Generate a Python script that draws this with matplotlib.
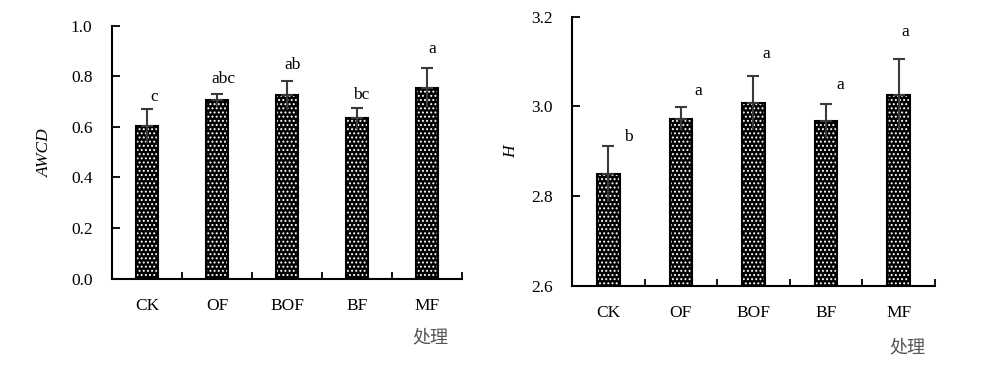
import numpy as np
import matplotlib.pyplot as plt

plt.rcParams['font.family'] = ['Liberation Serif', 'Noto Sans CJK SC']
plt.rcParams['hatch.linewidth'] = 0.9

treatments = ['CK', 'OF', 'BOF', 'BF', 'MF']

awcd_mean = [0.603, 0.705, 0.725, 0.634, 0.755]
awcd_err = [0.067, 0.026, 0.055, 0.042, 0.078]
awcd_letters = ['c', 'abc', 'ab', 'bc', 'a']

h_mean = [2.849, 2.973, 3.008, 2.968, 3.026]
h_err = [0.062, 0.026, 0.060, 0.038, 0.079]
h_letters = ['b', 'a', 'a', 'a', 'a']


def draw_panel(ax, mean, err, letters, ylim, yticks, ylabel, dx, dy):
    x = np.arange(len(treatments))
    mean = np.array(mean)
    err = np.array(err)
    base = ylim[0]
    # dotted fill: black bar with white hatch dots, then black outline
    ax.bar(x, mean - base, bottom=base, width=0.31, color='black',
           edgecolor='white', hatch='....', linewidth=0, zorder=2)
    ax.bar(x, mean - base, bottom=base, width=0.31, fill=False,
           edgecolor='black', linewidth=1.5, zorder=3)
    ax.errorbar(x, mean, yerr=[np.zeros_like(err), err], fmt='none',
                ecolor='#3a3a3a', elinewidth=1.5, capsize=4, capthick=1.5,
                zorder=4)
    ax.vlines(x, mean - err, mean, color='#3a3a3a', linewidth=1.5, zorder=4)
    for i, lab in enumerate(letters):
        ax.annotate(lab, (x[i] + dx[i], mean[i] + err[i]),
                    xytext=(0, dy[i]), textcoords='offset points',
                    ha='center', va='bottom', fontsize=12.5)

    ax.set_xlim(-0.5, len(treatments) - 0.5)
    ax.set_ylim(*ylim)
    ax.set_yticks(yticks)
    ax.set_yticklabels([f'{t:.1f}' for t in yticks])
    ax.set_xticks(x)
    ax.set_xticklabels(treatments)
    ax.set_xticks(np.arange(len(treatments) + 1) - 0.5, minor=True)
    ax.tick_params(axis='x', which='major', length=0, pad=14, labelsize=12.5)
    ax.tick_params(axis='x', which='minor', direction='in', length=5,
                   width=1.3)
    ax.tick_params(axis='y', direction='in', length=6, width=1.3, pad=14,
                   labelsize=12.5)
    for side in ['top', 'right']:
        ax.spines[side].set_visible(False)
    for side in ['left', 'bottom']:
        ax.spines[side].set_linewidth(1.5)
    ax.set_ylabel(ylabel, style='italic', fontsize=12.5)


fig = plt.figure(figsize=(10, 3.67), dpi=100)

ax1 = fig.add_axes([0.112, 0.2406, 0.35, 0.6894])
draw_panel(ax1, awcd_mean, awcd_err, awcd_letters, (0.0, 1.0),
           [0.0, 0.2, 0.4, 0.6, 0.8, 1.0], 'AWCD',
           [0.1, 0.09, 0.08, 0.06, 0.08], [3, 5, 6, 3, 8])
ax1.yaxis.set_label_coords(-0.168, 0.5)
fig.text(0.43, 0.08, '处理', ha='center', va='center', fontsize=13,
         color='#555555', family='Noto Sans CJK SC')

ax2 = fig.add_axes([0.572, 0.2207, 0.363, 0.7338])
draw_panel(ax2, h_mean, h_err, h_letters, (2.6, 3.2),
           [2.6, 2.8, 3.0, 3.2], 'H',
           [0.27, 0.24, 0.17, 0.19, 0.09], [1, 6, 10, 8, 14])
ax2.yaxis.set_label_coords(-0.145, 0.5)
fig.text(0.907, 0.052, '处理', ha='center', va='center', fontsize=13,
         color='#555555', family='Noto Sans CJK SC')

fig.savefig('out.png', dpi=100)
